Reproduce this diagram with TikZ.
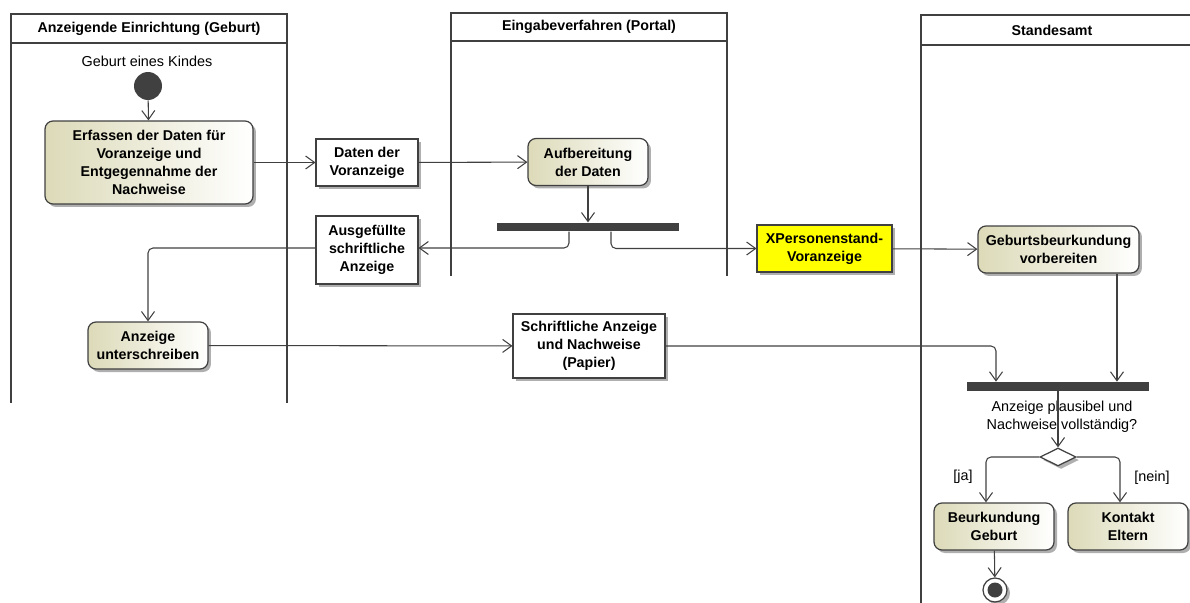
\documentclass[tikz,border=0pt]{standalone}
\usepackage{fontspec}
\setmainfont{Liberation Sans}
\usepackage{tikz}
\usetikzlibrary{positioning, calc, arrows.meta, shapes.geometric, shadows}

\definecolor{linegray}{RGB}{64,64,64}
\definecolor{actolive}{RGB}{220,218,184}
\definecolor{objyellow}{RGB}{255,255,0}

\begin{document}
\begin{tikzpicture}[
        x=0.02cm, y=-0.02cm,
        font=\fontsize{8.2}{10.2}\selectfont,
        lane/.style={draw=linegray, line width=1.6pt},
        laneHead/.style={draw=linegray, line width=1.2pt, font=\fontsize{8.1}{10.2}\selectfont\bfseries},
        shade/.style={drop shadow={shadow xshift=0.06cm, shadow yshift=-0.06cm, fill=gray!70, opacity=0.9}},
        action/.style={
            rectangle,
            rounded corners=0.16cm,
            draw=linegray,
            line width=0.7pt,
            left color=actolive,
            right color=white,
            shade,
            align=center,
            inner sep=1pt,
            minimum width=2.4cm,
            minimum height=0.94cm,
            font=\fontsize{8.1}{10.2}\selectfont\bfseries
        },
        object/.style={
            rectangle,
            draw=linegray,
            line width=0.6pt,
            fill=white,
            shade,
            align=center,
            inner sep=1pt,
            minimum width=2.04cm,
            minimum height=0.94cm,
            font=\fontsize{8.1}{10.2}\selectfont\bfseries
        },
        bar/.style={rectangle, fill=linegray, inner sep=0pt, minimum width=3.64cm, minimum height=0.17cm},
        flow/.style={draw=linegray, line width=0.6pt, rounded corners=0.1cm,
            -{Straight Barb[length=0.18cm, width=0.26cm]}}
    ]

        \clip (0,0) rectangle (1190,602);

        % Swimlanes
        \draw[laneHead] (11,14) rectangle (287,43);
        \node[font=\fontsize{8.1}{10.2}\selectfont\bfseries] (lane1) at (149,29) {Anzeigende Einrichtung (Geburt)};
        \draw[lane] (11,43) -- (11,403);
        \draw[lane] (287,43) -- (287,403);

        \draw[laneHead] (451,13) rectangle (727,41);
        \node[font=\fontsize{8.1}{10.2}\selectfont\bfseries] (lane2) at (589,27) {Eingabeverfahren (Portal)};
        \draw[lane] (451,41) -- (451,276);
        \draw[lane] (727,41) -- (727,276);

        \draw[laneHead] (921,15) rectangle (1200,45);
        \node[font=\fontsize{8.1}{10.2}\selectfont\bfseries] (lane3) at (1052,30) {Standesamt};
        \draw[lane] (921,45) -- (921,610);

        % Start
        \node (startlbl) at (147,61) {Geburt eines Kindes};
        \node[circle, fill=linegray, minimum size=0.56cm, inner sep=0pt] (start) at (148,86) {};

        % Anzeigende Einrichtung
        \node[action, minimum width=4.16cm, minimum height=1.66cm] (erfassen) at (149,162.5)
            {Erfassen der Daten für\\Voranzeige und\\Entgegennahme der\\Nachweise};
        \node[action] (unterschr) at (148,345.5) {Anzeige\\unterschreiben};

        % Objects between lanes
        \node[object] (daten) at (367,162.5) {Daten der\\Voranzeige};
        \node[object, minimum height=1.36cm] (ausgef) at (367,250) {Ausgefüllte\\schriftliche\\Anzeige};
        \node[object, minimum width=3.04cm, minimum height=1.28cm] (papier) at (589,346)
            {Schriftliche Anzeige\\und Nachweise\\(Papier)};
        \node[object, fill=objyellow, minimum width=2.7cm] (xpers) at (824.5,248.5)
            {XPersonenstand-\\Voranzeige};

        % Portal
        \node[action] (aufber) at (588,162) {Aufbereitung\\der Daten};
        \node[bar] (fork1) at (588,227) {};

        % Standesamt
        \node[action, minimum width=3.22cm] (vorber) at (1058.5,249.5) {Geburtsbeurkundung\\vorbereiten};
        \node[bar, minimum height=0.18cm] (fork2) at (1058,386.5) {};
        \node at (1062,417) (frage) {\begin{tabular}{@{}c@{}}Anzeige plausibel und\\Nachweise vollständig?\end{tabular}};
        \node[diamond, draw=linegray, line width=0.7pt, fill=white, shade, inner sep=0pt,
            minimum width=0.72cm, minimum height=0.36cm] (entsch) at (1058,457) {};
        \node[action] (beurk) at (994,526.5) {Beurkundung\\Geburt};
        \node[action] (kontakt) at (1128,526.5) {Kontakt\\Eltern};
        \node[circle, draw=linegray, line width=0.7pt, fill=white, shade, minimum size=0.48cm, inner sep=0pt] (ende) at (995,590) {};
        \node[circle, fill=linegray, minimum size=0.3cm, inner sep=0pt] (endedot) at (ende) {};

        % Connectors
        \draw[flow] (start) -- (erfassen);
        \draw[flow] (erfassen) -- (daten);
        \draw[flow] (daten) -- (aufber);
        \draw[flow] (aufber) -- (fork1);
        \draw[flow] ([xshift=-0.38cm]fork1.south) |- (ausgef.east |- 0,248);
        \draw[flow] ([xshift=0.46cm]fork1.south) |- (xpers.west);
        \draw[flow] (ausgef.west |- 0,248) -| (unterschr.north);
        \draw[flow] (unterschr) -- (papier);
        \draw[flow] (papier.east) -| ([xshift=-1.24cm]fork2.north);
        \draw[flow] (xpers) -- (vorber);
        \draw[flow] ([xshift=1.17cm]vorber.south) -- ([xshift=1.17cm]vorber.south |- fork2.north);
        \draw[flow] (fork2) -- (entsch);
        \draw[flow] (entsch.west) -| ([xshift=-0.16cm]beurk.north);
        \draw[flow] (entsch.east) -| ([xshift=-0.16cm]kontakt.north);
        \draw[flow] (beurk) -- (ende);

        % Guard labels
        \node (ja) at (963,477) {[ja]};
        \node (nein) at (1152,478) {[nein]};

    \end{tikzpicture}
\end{document}
